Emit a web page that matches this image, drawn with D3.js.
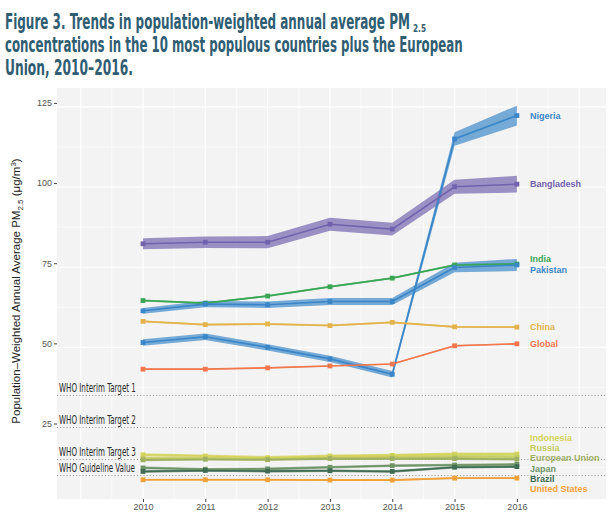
<!DOCTYPE html>
<html><head><meta charset="utf-8">
<script src="https://cdn.jsdelivr.net/npm/d3@7"></script>
<style>body{margin:0;background:#fff} svg{display:block}</style>
</head><body><svg id="c" width="615" height="518"></svg>
<script>
// ---------------- data ----------------
const years = [2010, 2011, 2012, 2013, 2014, 2015, 2016];
const yTicks = [25, 50, 75, 100, 125];

const nigeria     = [51.5, 53.3, 50.0, 46.4, 41.6, 115.0, 122.3];
const nigeriaCI   = [1.0, 1.0, 1.0, 1.0, 1.0, 2.1, 3.1];
const bangladesh  = [82.3, 82.8, 82.8, 88.4, 86.9, 100.1, 100.9];
const bangladeshCI= [1.7, 1.8, 1.9, 2.0, 2.0, 2.2, 2.6];
const india       = [64.6, 63.8, 66.0, 68.9, 71.6, 75.7, 76.0];
const indiaCI     = [0.3, 0.3, 0.3, 0.3, 0.3, 0.3, 0.3];
const pakistan    = [61.4, 63.5, 63.3, 64.3, 64.3, 74.9, 75.7];
const pakistanCI  = [0.9, 1.0, 1.0, 1.1, 1.1, 1.5, 1.9];
const china       = [58.1, 57.1, 57.3, 56.8, 57.8, 56.4, 56.3];
const chinaCI     = [0.3, 0.3, 0.3, 0.3, 0.3, 0.3, 0.3];
const globalAvg   = [43.2, 43.2, 43.6, 44.2, 44.8, 50.5, 51.1];
const globalCI    = [0.2, 0.2, 0.2, 0.2, 0.2, 0.2, 0.2];
const indonesia   = [16.5, 16.1, 15.6, 16.1, 16.3, 16.7, 16.7];
const indonesiaCI = [0.5, 0.5, 0.5, 0.5, 0.5, 0.5, 0.5];
const russia      = [15.4, 15.3, 15.1, 15.5, 15.7, 15.9, 15.8];
const russiaCI    = [0.5, 0.5, 0.5, 0.5, 0.5, 0.5, 0.5];
const eu          = [14.9, 15.1, 15.0, 15.3, 15.3, 15.3, 15.1];
const euCI        = [0.4, 0.4, 0.4, 0.4, 0.4, 0.4, 0.4];
const japan       = [12.4, 12.0, 12.1, 12.6, 13.1, 13.3, 13.5];
const japanCI     = [0.4, 0.4, 0.4, 0.4, 0.4, 0.4, 0.4];
const brazil      = [11.3, 11.6, 11.4, 11.5, 11.3, 12.6, 12.8];
const brazilCI    = [0.4, 0.4, 0.4, 0.4, 0.4, 0.4, 0.4];
const usa         = [8.7, 8.7, 8.7, 8.6, 8.6, 9.2, 9.2];
const usaCI       = [0.3, 0.3, 0.3, 0.3, 0.3, 0.3, 0.3];

const seriesNames  = ["Nigeria","Bangladesh","India","Pakistan","China","Global","Indonesia","Russia","European Union","Japan","Brazil","United States"];
const seriesValues = [nigeria, bangladesh, india, pakistan, china, globalAvg, indonesia, russia, eu, japan, brazil, usa];
const seriesCI     = [nigeriaCI, bangladeshCI, indiaCI, pakistanCI, chinaCI, globalCI, indonesiaCI, russiaCI, euCI, japanCI, brazilCI, usaCI];
const seriesColors = ["#3a86c8","#7262ae","#3aa655","#3a86c8","#e3b44c","#f2774f","#d4d35c","#c3cc5e","#9fb064","#6f9468","#3f6c53","#f0a23a"];

const whoValues = [35, 25, 15, 10];
const whoLabels = ["WHO Interim Target 1","WHO Interim Target 2","WHO Interim Target 3","WHO Guideline Value"];

const titleLines = ["Figure 3. Trends in population-weighted annual average PM",
                    "concentrations in the 10 most populous countries plus the European",
                    "Union, 2010\u20132016."];

// ---------------- layout ----------------
const svg = d3.select("#c");
const P = {left: 57, right: 606, top: 88, bottom: 499};
const x = d3.scaleLinear().domain([2008.62, 2017.43]).range([P.left, P.right]);
const y = d3.scaleLinear().domain([2.7, 130.9]).range([P.bottom, P.top]);

// helper: draw text condensed horizontally to a target width
function condensed(sel, txt, x0, y0, target, attrs) {
  const t = sel.append("text").attr("x", 0).attr("y", 0);
  Object.entries(attrs).forEach(([k, v]) => t.attr(k, v));
  t.text(txt);
  const w = t.node().getComputedTextLength();
  const sx = target / w;
  t.attr("transform", `translate(${x0},${y0}) scale(${sx},1)`);
  return sx;
}

// title
const titleColor = "#2f5d72";
const tW = [405, 458, 128];
const titleAttrs = {"font-family": "'DejaVu Sans Condensed','Liberation Sans',sans-serif",
  "font-weight": "bold", "font-size": 21, "fill": titleColor};
titleLines.forEach((t, i) => condensed(svg, t, 5, 29 + i * 23, tW[i], titleAttrs));
condensed(svg, "2.5", 413, 32, 13, {"font-family": "'DejaVu Sans Condensed','Liberation Sans',sans-serif",
  "font-weight": "bold", "font-size": 10, "fill": titleColor});

// panel
svg.append("rect").attr("x", P.left).attr("y", P.top)
  .attr("width", P.right - P.left).attr("height", P.bottom - P.top).attr("fill", "#f3f3f3");

const g = svg.append("g");
const yMinor = d3.range(12.5, 130, 25);
const xMajor = d3.range(2009, 2018, 1);
const xMinor = d3.range(2009.5, 2017.4, 1);
g.selectAll(".ymin").data(yMinor).join("line")
  .attr("x1", P.left).attr("x2", P.right).attr("y1", d => y(d)).attr("y2", d => y(d))
  .attr("stroke", "#fff").attr("stroke-width", 0.6);
g.selectAll(".xmin").data(xMinor).join("line")
  .attr("y1", P.top).attr("y2", P.bottom).attr("x1", d => x(d)).attr("x2", d => x(d))
  .attr("stroke", "#fff").attr("stroke-width", 0.6);
g.selectAll(".ymaj").data(yTicks).join("line")
  .attr("x1", P.left).attr("x2", P.right).attr("y1", d => y(d)).attr("y2", d => y(d))
  .attr("stroke", "#fff").attr("stroke-width", 1.1);
g.selectAll(".xmaj").data(xMajor).join("line")
  .attr("y1", P.top).attr("y2", P.bottom).attr("x1", d => x(d)).attr("x2", d => x(d))
  .attr("stroke", "#fff").attr("stroke-width", 1.1);

// WHO lines
whoValues.forEach((v, i) => {
  g.append("line").attr("x1", P.left).attr("x2", P.right).attr("y1", y(v)).attr("y2", y(v))
    .attr("stroke", "#8a8a8a").attr("stroke-width", 1).attr("stroke-dasharray", "1,2.2");
});
const whoFont = "'DejaVu Sans Condensed','Liberation Sans',sans-serif";
let whoSx;
{
  const t = g.append("text").attr("font-family", whoFont).attr("font-size", 11.5).text(whoLabels[0]);
  whoSx = 77 / t.node().getComputedTextLength();
  t.remove();
}
whoValues.forEach((v, i) => {
  g.append("text").attr("x", 0).attr("y", 0)
    .attr("font-family", whoFont).attr("font-size", 11.5).attr("fill", "#2a2a2a")
    .attr("transform", `translate(59,${y(v) - 3.5}) scale(${whoSx},1)`).text(whoLabels[i]);
});

// axes
const yAxis = svg.append("g").attr("transform", `translate(${P.left},-4)`)
  .call(d3.axisLeft(y).tickValues(yTicks).tickSize(3).tickPadding(2));
yAxis.select(".domain").remove();
yAxis.selectAll("line").attr("stroke", "#444");
yAxis.selectAll("text").attr("font-family", "'Liberation Sans',Arial,sans-serif")
  .attr("font-size", 9).attr("fill", "#555");

const xAxis = svg.append("g").attr("transform", `translate(0,${P.bottom})`)
  .call(d3.axisBottom(x).tickValues(years).tickFormat(d3.format("d")).tickSize(3).tickPadding(2));
xAxis.select(".domain").remove();
xAxis.selectAll("line").attr("stroke", "#444");
xAxis.selectAll("text").attr("font-family", "'Liberation Sans',Arial,sans-serif")
  .attr("font-size", 9).attr("fill", "#555");

// y title
const yt = svg.append("text").attr("transform", "translate(20,291) rotate(-90)")
  .attr("text-anchor", "middle")
  .attr("font-family", "'Liberation Sans',Arial,sans-serif").attr("font-size", 11.5).attr("fill", "#222");
yt.append("tspan").text("Population\u2013Weighted Annual Average  PM");
yt.append("tspan").attr("font-size", 8).attr("dy", 3).text("2.5");
yt.append("tspan").attr("dy", -3).text(" (\u03bcg/m");
yt.append("tspan").attr("font-size", 8).attr("dy", -4).text("3");
yt.append("tspan").attr("dy", 4).text(")");

// series
const series = seriesNames.map((n, i) => ({
  name: n, color: seriesColors[i],
  pts: years.map((yr, j) => ({yr, v: seriesValues[i][j], ci: seriesCI[i][j]}))
}));

const area = d3.area().x(d => x(d.yr)).y0(d => y(d.v - d.ci)).y1(d => y(d.v + d.ci));
const line = d3.line().x(d => x(d.yr)).y(d => y(d.v));

g.selectAll(".band").data(series).join("path")
  .attr("d", d => area(d.pts)).attr("fill", d => d.color).attr("fill-opacity", 0.68);
g.selectAll(".ln").data(series).join("path")
  .attr("d", d => line(d.pts)).attr("fill", "none").attr("stroke", d => d.color).attr("stroke-width", 1.6);
series.forEach(s => {
  g.selectAll(null).data(s.pts).join("rect")
    .attr("x", d => x(d.yr) - 2.4).attr("y", d => y(d.v) - 2.4)
    .attr("width", 4.8).attr("height", 4.8).attr("fill", s.color);
});

// labels with simple repel
const gap = 10.3;
let labs = series.map(s => ({name: s.name, color: s.color, target: y(s.pts[s.pts.length - 1].v)}))
  .sort((a, b) => a.target - b.target);
let clusters = labs.map(l => ({items: [l], center: l.target}));
let changed = true;
while (changed) {
  changed = false;
  for (let i = 0; i < clusters.length - 1; i++) {
    const a = clusters[i], b = clusters[i + 1];
    const aEnd = a.center + (a.items.length - 1) * gap / 2;
    const bStart = b.center - (b.items.length - 1) * gap / 2;
    if (bStart - aEnd < gap) {
      const items = a.items.concat(b.items);
      const center = d3.mean(items, d => d.target);
      clusters.splice(i, 2, {items, center});
      changed = true; break;
    }
  }
}
clusters.forEach(c => c.items.forEach((it, k) => { it.y = c.center + (k - (c.items.length - 1) / 2) * gap; }));

svg.selectAll(".lab").data(labs).join("text")
  .attr("x", 530).attr("y", d => d.y).attr("dy", "0.35em")
  .attr("font-family", "'Liberation Sans',Arial,sans-serif").attr("font-weight", "bold")
  .attr("font-size", 9).attr("fill", d => d.color).text(d => d.name);
</script></body></html>
